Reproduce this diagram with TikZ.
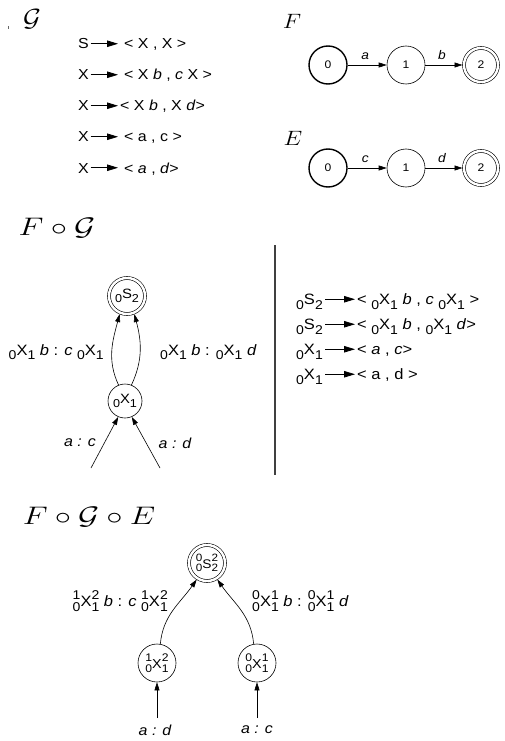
\documentclass[tikz,border=0pt]{standalone}
\usepackage{amsmath}
\usepackage{fontspec}
\setmainfont{Liberation Sans}[FakeStretch=1.1]
\usepackage{graphicx}
\usetikzlibrary{arrows.meta}
\newcommand{\ssc}[1]{\scalebox{0.85}{#1}}
\newcommand{\pX}[3]{\raisebox{-0.3em}{\ssc{#1}}#2\raisebox{-0.3em}{\ssc{#3}}}
\newcommand{\stk}[2]{\raisebox{-0.3em}{\shortstack[c]{\ssc{#1}\\\ssc{#2}}}}
\newcommand{\qX}[5]{\stk{#1}{#2}#3\stk{#4}{#5}}
\newcommand{\hd}[1]{\scalebox{1.3}[1.02]{$#1$}}
\begin{document}
\begin{tikzpicture}[x=1pt,y=-1pt,
  lbl/.style={font=\fontsize{14.5}{16}\selectfont, inner sep=0pt, text height=10.5pt, text depth=0pt},
  lhs/.style={lbl, anchor=base east},
  rhs/.style={lbl, anchor=base west},
  rlbl/.style={lbl, font=\fontsize{15}{17}\selectfont},
  rlhs/.style={rlbl, anchor=base east},
  rrhs/.style={rlbl, anchor=base west},
  rulearrow/.style={-{Triangle[length=11pt,width=6.5pt]}, line width=0.8pt},
  arr/.style={-{Triangle[length=8pt,width=5pt]}, line width=0.6pt},
  state/.style={circle, draw, line width=0.6pt, minimum size=38pt, inner sep=0pt, font=\fontsize{11}{12}\selectfont},
  init/.style={state, line width=1.4pt},
  accept/.style={state, double, double distance=2.4pt, minimum size=34pt, outer sep=1.5pt},
  head/.style={inner sep=0pt},
  elabel/.style={font=\fontsize{12.5}{14}\selectfont\itshape, inner sep=0pt},
  alabel/.style={font=\fontsize{14.5}{16}\selectfont\itshape, inner sep=0pt},
  tlabel/.style={font=\fontsize{15}{17}\selectfont, inner sep=0pt}
]
\useasboundingbox (0,0) rectangle (504,741);

% headings
\node[head, font=\fontsize{24.88}{28}\selectfont] (hG) at (32,19) {\scalebox{1.1}[1.0]{$\mathcal{G}$}};
\fill[black!60] (7.6,26) rectangle (8.6,29.5);
\node[head, font=\fontsize{20.74}{24}\selectfont] (hF) at (292,21) {\scalebox{1.15}[1.0]{$F$}};
\node[head, font=\fontsize{20.74}{24}\selectfont] (hE) at (293,138) {\scalebox{1.15}[1.0]{$E$}};
\node[head, font=\fontsize{24.88}{28}\selectfont] (hFG) at (57,228) {\hd{F\circ\mathcal{G}}};
\node[head, font=\fontsize{24.88}{28}\selectfont] (hFGE) at (89,517) {\hd{F\circ\mathcal{G}\circ E}};

% grammar G
\node[lhs] (l1) at (89,49) {S};
\node[rhs] (r1) at (124,49) {< X , X >};
\draw[rulearrow, shorten <=1.5pt, shorten >=6pt] (l1.east) -- (r1.west);
\node[lhs] (l2) at (89,80) {X};
\node[rhs] (r2) at (124,80) {< X \textit{b} , \textit{c} X >};
\draw[rulearrow, shorten <=1.5pt, shorten >=6pt] (l2.east) -- (r2.west);
\node[lhs] (l3) at (89,111) {X};
\node[rhs] (r3) at (120,111) {< X \textit{b} , X \textit{d}>};
\draw[rulearrow, shorten <=1.5pt, shorten >=2pt] (l3.east) -- (r3.west);
\node[lhs] (l4) at (89,142) {X};
\node[rhs] (r4) at (124,142) {< a , c >};
\draw[rulearrow, shorten <=1.5pt, shorten >=6pt] (l4.east) -- (r4.west);
\node[lhs] (l5) at (89,173) {X};
\node[rhs] (r5) at (124,173) {< \textit{a} , \textit{d}>};
\draw[rulearrow, shorten <=1.5pt, shorten >=6pt] (l5.east) -- (r5.west);

% automaton F
\node[init] (f0) at (328,65) {0};
\node[state] (f1) at (406,65) {1};
\node[accept] (f2) at (481,65) {2};
\draw[arr] (f0) -- node[elabel, above=5pt, pos=0.45] {a} (f1);
\draw[arr] (f1) -- node[elabel, above=5pt, pos=0.45] {b} (f2);

% automaton E
\node[init] (e0) at (328,168) {0};
\node[state] (e1) at (406,168) {1};
\node[accept] (e2) at (481,168) {2};
\draw[arr] (e0) -- node[elabel, above=5pt, pos=0.45] {c} (e1);
\draw[arr] (e1) -- node[elabel, above=5pt, pos=0.45] {d} (e2);

% F o G graph
\node[accept, minimum size=36pt, font=\fontsize{13.5}{15}\selectfont] (s) at (127,296) {\pX{0}{S}{2}};
\node[state, minimum size=34pt, font=\fontsize{13.5}{15}\selectfont] (x) at (125,401) {\pX{0}{X}{1}};
\draw[arr] (x.112) to[out=115,in=-105] (s.-112);
\draw[arr] (x.68) to[out=65,in=-75] (s.-68);
\node[tlabel, anchor=east] (lbl1) at (104,352) {\pX{0}{X}{1} \textit{b} : \textit{c} \pX{0}{X}{1}};
\node[tlabel, anchor=west] (lbl2) at (160,352) {\pX{0}{X}{1} \textit{b} : \pX{0}{X}{1} \textit{d}};
\coordinate (ia) at (91,468);
\coordinate (ib) at (160,468);
\draw[arr] (ia) -- (x.-113);
\draw[arr] (ib) -- (x.-67);
\node[alabel] (lac) at (80,443) {a : c};
\node[alabel] (lad1) at (175,443) {a : d};

% separator
\coordinate (sepA) at (275,245);
\coordinate (sepB) at (275,475);
\draw[line width=1.2pt, black!75] (sepA) -- (sepB);

% grammar F o G
\node[rlhs] (m1) at (323,304.5) {\pX{0}{S}{2}};
\node[rrhs] (n1) at (357,304.5) {< \pX{0}{X}{1} \textit{b} , \textit{c} \pX{0}{X}{1} >};
\draw[rulearrow, shorten <=2pt, shorten >=2pt] (m1.east) -- (n1.west);
\node[rlhs] (m2) at (323,329.5) {\pX{0}{S}{2}};
\node[rrhs] (n2) at (357,329.5) {< \pX{0}{X}{1} \textit{b} , \pX{0}{X}{1} \textit{d}>};
\draw[rulearrow, shorten <=2pt, shorten >=2pt] (m2.east) -- (n2.west);
\node[rlhs] (m3) at (323,354.5) {\pX{0}{X}{1}};
\node[rrhs] (n3) at (357,354.5) {< \textit{a} , \textit{c}>};
\draw[rulearrow, shorten <=2pt, shorten >=2pt] (m3.east) -- (n3.west);
\node[rlhs] (m4) at (323,379.5) {\pX{0}{X}{1}};
\node[rrhs] (n4) at (357,379.5) {< a , d >};
\draw[rulearrow, shorten <=2pt, shorten >=2pt] (m4.east) -- (n4.west);

% F o G o E graph
\node[accept, minimum size=36pt, font=\fontsize{12.5}{14}\selectfont] (t) at (207,563) {\qX{0}{0}{S}{2}{2}};
\node[state, minimum size=38pt, font=\fontsize{13}{14}\selectfont] (nl) at (157,663) {\qX{1}{0}{X}{2}{1}};
\node[state, minimum size=38pt, font=\fontsize{13}{14}\selectfont] (nr) at (257,663) {\qX{0}{0}{X}{1}{1}};
\draw[arr] (nl.80) to[out=85,in=-125] (t.-122);
\draw[arr] (nr.100) to[out=95,in=-55] (t.-58);
\node[tlabel, anchor=east] (lbl3) at (168,601) {\qX{1}{0}{X}{2}{1} \textit{b} : \textit{c} \qX{1}{0}{X}{2}{1}};
\node[tlabel, anchor=west] (lbl4) at (252,601) {\qX{0}{0}{X}{1}{1} \textit{b} : \qX{0}{0}{X}{1}{1} \textit{d}};
\coordinate (la) at (157,718);
\coordinate (ra) at (257,718);
\draw[arr] (la) -- (nl);
\draw[arr] (ra) -- (nr);
\node[alabel] (lad2) at (155,730) {a : d};
\node[alabel] (lac2) at (257,730) {a : c};
\end{tikzpicture}
\end{document}
